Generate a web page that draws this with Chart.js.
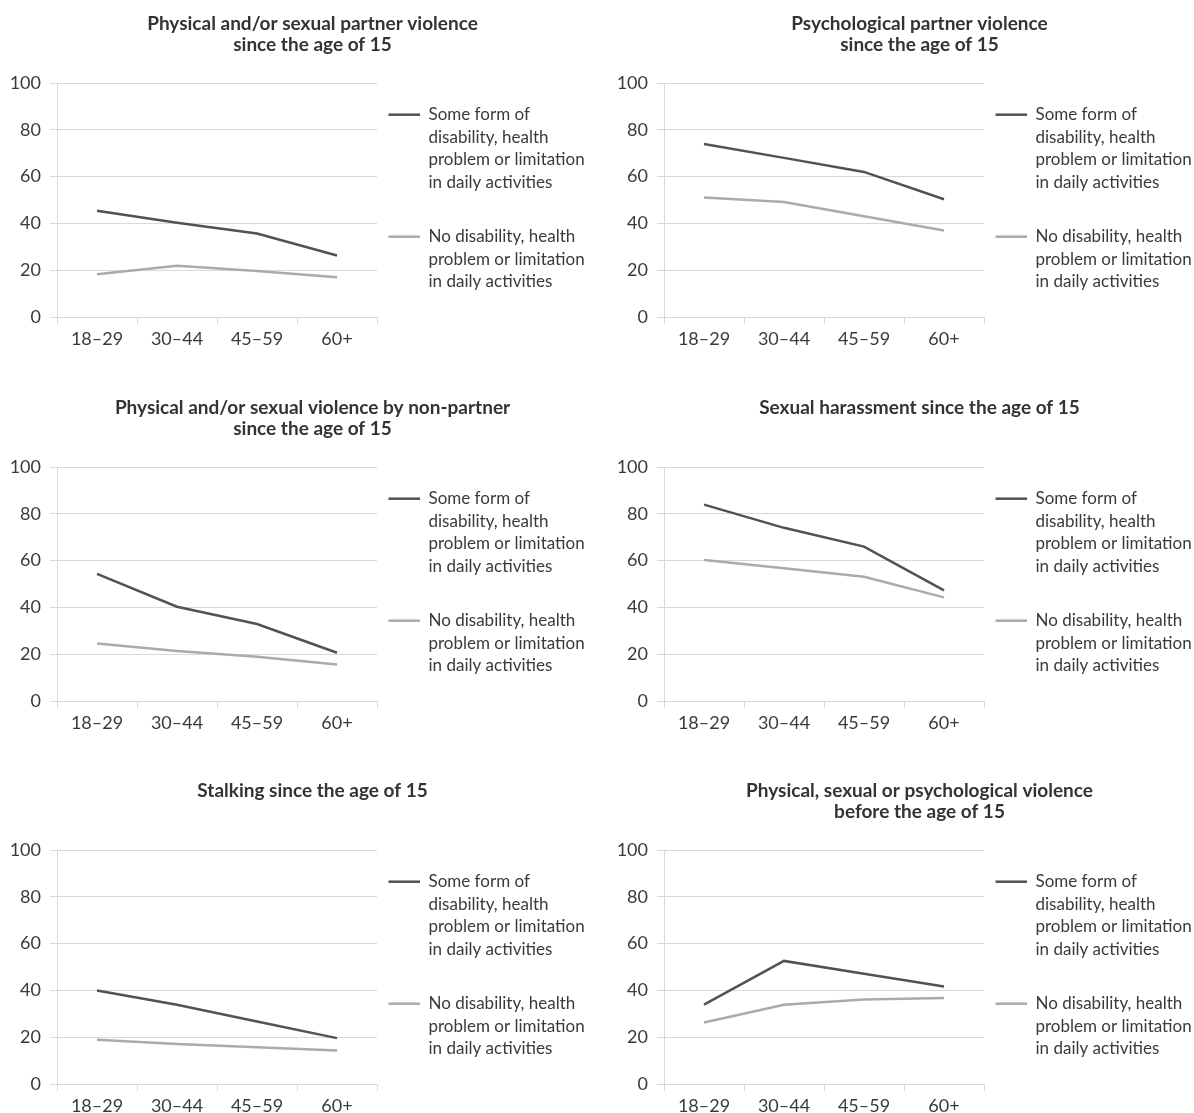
<!DOCTYPE html>
<html>
<head>
<meta charset="utf-8">
<script src="https://cdn.jsdelivr.net/npm/chart.js@4.4.1/dist/chart.umd.min.js"></script>
<style>
  html, body { margin: 0; padding: 0; background: #fff; overflow: hidden; }
  #wrap { position: relative; width: 1194px; height: 1113px; overflow: hidden; }
  canvas { position: absolute; }
</style>
</head>
<body>
<div id="wrap">
  <canvas id="chart_1" width="625" height="384" style="left:0px;top:0px"></canvas>
  <canvas id="chart_2" width="625" height="384" style="left:607px;top:0px"></canvas>
  <canvas id="chart_3" width="625" height="384" style="left:0px;top:384px"></canvas>
  <canvas id="chart_4" width="625" height="384" style="left:607px;top:384px"></canvas>
  <canvas id="chart_5" width="625" height="384" style="left:0px;top:767px"></canvas>
  <canvas id="chart_6" width="625" height="384" style="left:607px;top:767px"></canvas>
</div>
<script>
const ageGroups = ["18–29", "30–44", "45–59", "60+"];
const yTicks = [0, 20, 40, 60, 80, 100];

const labelDisability = ["Some form of", "disability, health", "problem or limitation", "in daily activities"];
const labelNoDisability = ["No disability, health", "problem or limitation", "in daily activities"];

const titlePartnerPhysical = ["Physical and/or sexual partner violence", "since the age of 15"];
const titlePartnerPsych = ["Psychological partner violence", "since the age of 15"];
const titleNonPartner = ["Physical and/or sexual violence by non-partner", "since the age of 15"];
const titleHarassment = ["Sexual harassment since the age of 15"];
const titleStalking = ["Stalking since the age of 15"];
const titleChildhood = ["Physical, sexual or psychological violence", "before the age of 15"];

const partnerPhysicalDisab = [45.4, 40.3, 35.7, 26.3];
const partnerPhysicalNone = [18.3, 21.9, 19.7, 17.0];
const partnerPsychDisab = [73.9, 68.0, 62.0, 50.3];
const partnerPsychNone = [51.1, 49.1, 43.1, 37.0];
const nonPartnerDisab = [54.3, 40.3, 32.9, 20.6];
const nonPartnerNone = [24.6, 21.4, 18.9, 15.6];
const harassmentDisab = [83.9, 74.0, 66.0, 47.3];
const harassmentNone = [60.3, 56.7, 53.1, 44.3];
const stalkingDisab = [40.0, 33.9, 26.7, 19.6];
const stalkingNone = [18.9, 17.1, 15.7, 14.3];
const childhoodDisab = [33.9, 52.6, 47.1, 41.7];
const childhoodNone = [26.3, 33.9, 36.1, 36.7];

const COLOR_DARK = "#4b545a";
const COLOR_LIGHT = "#a6acb1";
const COLOR_GRID = "#d9d9d9";
const COLOR_TEXT = "#3a3a3a";
const FONT = "Lato, 'Noto Sans', sans-serif";

// title centred over the whole panel (plot + legend)
const panelTitle = {
  id: "panelTitle",
  afterDraw: function (chart, args, opts) {
    let ctx = chart.ctx;
    ctx.save();
    ctx.font = "bold 19px " + FONT;
    ctx.fillStyle = "#333333";
    ctx.textAlign = "center";
    ctx.textBaseline = "middle";
    opts.lines.forEach(function (line, i) {
      ctx.fillText(line, chart.width / 2, 24 + i * 21);
    });
    ctx.restore();
  },
};

// legend to the right of the plot, multi-line labels
const sideLegend = {
  id: "sideLegend",
  afterDraw: function (chart) {
    let ctx = chart.ctx;
    let area = chart.chartArea;
    let y = area.top + 31.7;
    let lineHeight = 22.5;

    ctx.save();
    ctx.font = "17px " + FONT;
    ctx.textBaseline = "middle";
    ctx.textAlign = "left";

    chart.data.datasets.forEach(function (ds) {
      ctx.strokeStyle = ds.borderColor;
      ctx.lineWidth = 2.5;
      ctx.beginPath();
      ctx.moveTo(area.right + 11.5, y);
      ctx.lineTo(area.right + 43, y);
      ctx.stroke();

      ctx.fillStyle = COLOR_TEXT;
      ds.legendLines.forEach(function (line, i) {
        ctx.fillText(line, area.right + 51.5, y + i * lineHeight);
      });
      y += ds.legendLines.length * lineHeight + 32;
    });
    ctx.restore();
  },
};

function crearPanel(canvasId, title, disab, none) {
  let ctx = document.getElementById(canvasId);

  return new Chart(ctx, {
    type: "line",
    data: {
      labels: ageGroups,
      datasets: [
        {
          label: labelDisability.join(" "),
          legendLines: labelDisability,
          data: disab,
          borderColor: COLOR_DARK,
          borderWidth: 2.5,
          pointRadius: 0,
          tension: 0,
        },
        {
          label: labelNoDisability.join(" "),
          legendLines: labelNoDisability,
          data: none,
          borderColor: COLOR_LIGHT,
          borderWidth: 2.5,
          pointRadius: 0,
          tension: 0,
        },
      ],
    },
    options: {
      responsive: false,
      animation: false,
      devicePixelRatio: 1,
      layout: {
        padding: { left: 0, right: 248, top: 83, bottom: 0 },
      },
      plugins: {
        legend: { display: false },
        tooltip: { enabled: false },
        title: { display: false },
        panelTitle: { lines: title },
      },
      scales: {
        x: {
          offset: true,
          grid: {
            offset: true,
            drawOnChartArea: false,
            drawTicks: true,
            tickLength: 7,
            color: COLOR_GRID,
          },
          border: { display: true, color: COLOR_GRID },
          ticks: {
            color: COLOR_TEXT,
            font: { family: FONT, size: 18 },
            padding: 4,
            maxRotation: 0,
          },
          afterFit: function (scale) {
            scale.height = 67;
          },
        },
        y: {
          min: yTicks[0],
          max: yTicks[yTicks.length - 1],
          afterBuildTicks: function (scale) {
            scale.ticks = yTicks.map(function (v) {
              return { value: v };
            });
          },
          grid: {
            color: COLOR_GRID,
            tickLength: 7,
            drawTicks: true,
          },
          border: { display: true, color: COLOR_GRID },
          ticks: {
            color: COLOR_TEXT,
            font: { family: FONT, size: 18 },
            padding: 9,
          },
          afterFit: function (scale) {
            scale.width = 57;
          },
        },
      },
    },
    plugins: [panelTitle, sideLegend],
  });
}

crearPanel("chart_1", titlePartnerPhysical, partnerPhysicalDisab, partnerPhysicalNone);
crearPanel("chart_2", titlePartnerPsych, partnerPsychDisab, partnerPsychNone);
crearPanel("chart_3", titleNonPartner, nonPartnerDisab, nonPartnerNone);
crearPanel("chart_4", titleHarassment, harassmentDisab, harassmentNone);
crearPanel("chart_5", titleStalking, stalkingDisab, stalkingNone);
crearPanel("chart_6", titleChildhood, childhoodDisab, childhoodNone);
</script>
</body>
</html>
